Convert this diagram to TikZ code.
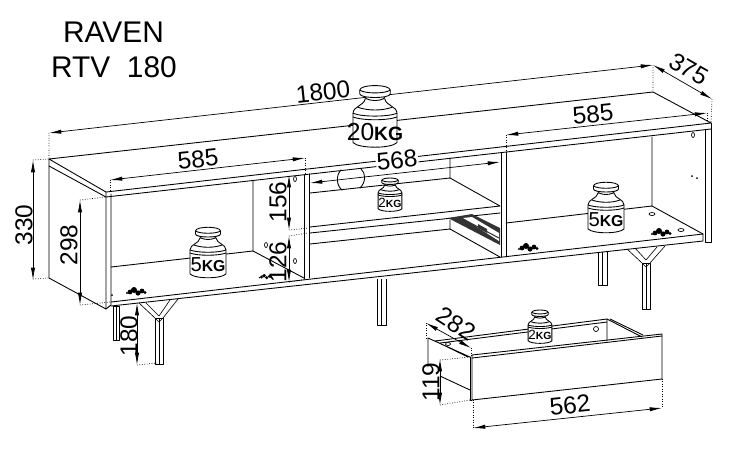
\documentclass[tikz,border=0pt]{standalone}
\usepackage{fontspec}
\setmainfont{Liberation Sans}
\usetikzlibrary{arrows.meta}
\tikzset{
  body/.style={line width=0.5pt, line cap=round, line join=round},
  leg/.style={line width=0.35pt, line join=round},
  extline/.style={densely dotted, line width=0.4pt},
  dimline/.style={line width=0.4pt, {Latex[length=7pt,width=2.4pt]}-{Latex[length=7pt,width=2.4pt]}},
  dimlabel/.style={font=\fontsize{13.9pt}{15pt}\selectfont, inner sep=0.5pt},
  pics/weight/.style={code={
    \filldraw[body, fill=white] (-18,-3) .. controls (-18,-9) and (-9,-9) .. (-8,-15) -- (8,-15)
      .. controls (9,-9) and (18,-9) .. (18,-3) -- (18,21)
      .. controls (13,26) and (-13,26) .. (-18,21) -- cycle;
    \filldraw[body, fill=white] (-9,-18) -- (-7,-15) .. controls (-3,-13) and (3,-13) .. (7,-15) -- (9,-18) -- cycle;
    \filldraw[body, fill=white] (-12.5,-22) .. controls (-12.5,-27) and (12.5,-27) .. (12.5,-22) -- (12.5,-19)
      .. controls (12.5,-15) and (-12.5,-15) .. (-12.5,-19) -- cycle;
    \draw[body] (-12.5,-22) .. controls (-8,-19) and (8,-19) .. (12.5,-22);
    \draw[body] (-14,-8) .. controls (-6,-5) and (6,-5) .. (14,-8);
    \draw[body] (-18,-3) .. controls (-10,0) and (10,0) .. (18,-3);
    \draw[body] (-18,0) .. controls (-10,3) and (10,3) .. (18,0);
    \node[transform shape, inner sep=0pt] at (0,12) {\fontsize{11.5pt}{12pt}\selectfont #1\fontsize{9pt}{10pt}\selectfont\textbf{KG}};
  }},
  pics/blob/.style={code={
    \fill (-7,0) circle (2.4);
    \fill (-3,-2) circle (3);
    \fill (1,1) circle (2.6);
    \fill (5,-1) circle (2.4);
    \fill (8,0.5) circle (1.6);
    \fill (-10,1) circle (1.2);
  }}
}
\begin{document}
\begin{tikzpicture}[x=0.02cm, y=-0.02cm]
  \useasboundingbox (0,0) rectangle (734,451);
  \fill[white] (0,0) rectangle (734,451);

  % title
  \node[font=\fontsize{17pt}{18pt}\selectfont, inner sep=0pt] (title1) at (113.5,32) {RAVEN};
  \node[font=\fontsize{17pt}{18pt}\selectfont, inner sep=0pt] (title2) at (114,67) {RTV\ \ 180};

  % legs
  \draw[leg] (113,306) rectangle (119,340) (116,306) -- (116,340);
  \draw[leg] (155,318) rectangle (163,364) (159,318) -- (159,364);
  \draw[leg] (139,303) -- (155,318) -- (159,322) -- (163,318) -- (178,299);
  \draw[leg] (146,303) -- (159,316) -- (170,300);
  \draw[leg] (377,279) -- (377,325) -- (386,325) -- (386,279) (381.5,279) -- (381.5,325);
  \draw[leg] (598,252) -- (598,285) -- (607,285) -- (607,252) (602.5,252) -- (602.5,285);
  \draw[leg] (642,263) rectangle (650,309) (646,263) -- (646,309);
  \draw[leg] (627,249) -- (642,263) -- (646,267) -- (650,263) -- (665,246);
  \draw[leg] (635,248) -- (646,260) -- (657,247);

  % cabinet
  \draw[body] (49,159) -- (653,92) -- (711,123) -- (106,192) -- cycle;
  \draw[body] (106,197) -- (711,129);
  \draw[body] (49,166) -- (106,197);
  \draw[body] (49,159) -- (49,278) -- (106,309) -- (106,192);
  \draw[body] (111,194) -- (111,305) (106,309) -- (111,305);
  \draw[body] (111,302) -- (703,234) (111,306) -- (703,241) -- (703,234);
  \draw[body] (705,130) -- (705,242) -- (711,242) -- (711,123);
  % left room
  \draw[body] (253,181) -- (253,251) -- (304,278) (111,267) -- (253,251);
  \draw[body] (304,175) -- (304,279) (309,174) -- (309,278);
  % middle room
  \draw[body] (310,193) -- (450,178) -- (450,158);
  \draw[body] (450,178) -- (500,206) (310,227) -- (500,206) (310,233) -- (500,213);
  \draw[body] (310,244) -- (450,229) -- (500,257) (450,220) -- (450,229);
  \draw[body] (501,153) -- (501,257) (506,152) -- (506,257);
  % right room
  \draw[body] (652,137) -- (652,206) -- (703,234) (506,223) -- (652,206);

  % drawer slide
  \fill[black!80] (448,218) -- (472,214) -- (500,228) -- (500,245) -- cycle;
  \fill[white] (463,218) -- (472,217) -- (499,233) -- (499,241) -- cycle;
  \draw[black!80, line width=0.6pt] (463,219) -- (499,238);
  \fill[black!80] (478,224) -- (487,229) -- (487,233) -- (478,228) -- cycle;

  % cut-out and holes
  \draw[body] (341,170) .. controls (336,175) and (336,185) .. (342,190);
  \draw[body] (361,169) .. controls (366,173) and (366,182) .. (360,188);
  \foreach \hx/\hy in {295/179, 266/245, 295/261, 693/135} {
    \draw[line width=0.4pt] (\hx,\hy) ellipse (1.5 and 2.5);
  }
  \foreach \hx/\hy in {652/214, 681/230} {
    \draw[line width=0.4pt] (\hx,\hy) ellipse (3 and 1.5);
  }
  \fill (692,176) circle (1) (697,178) circle (1) (112,295) circle (1);
  \pic at (137,292) {blob};
  \pic[scale=0.65] at (266,277) {blob};
  \pic at (529,248) {blob};
  \pic at (662,233) {blob};

  % drawer
  \draw[body] (435,341) -- (607,319) -- (642,337);
  \draw[body] (440,343) -- (607,322);
  \draw[body] (607,319) -- (607,341) (610,319) -- (643,335);
  \draw[body] (428,338) -- (470,357) (435,341) -- (468,357);
  \draw[body] (428,338) -- (428,367) (440,376) -- (470,390);
  \draw[body] (472,355) -- (662,334) -- (662,379) -- (472,400) -- cycle;
  \draw[body] (472,358) -- (662,336);
  \draw[body] (470,357) -- (470,400) -- (472,400);
  \draw[line width=0.4pt] (596,329) circle (2.5) (448,344) ellipse (2.5 and 1.5);

  % dimension guides
  \draw[extline] (49,133) -- (49,159) (653,65) -- (653,92) (712,99) -- (711,123);
  \draw[extline] (110,180) -- (110,192) (305,158) -- (305,175);
  \draw[extline] (506,135) -- (506,152) (707,113) -- (707,125);
  \draw[extline] (33,160) -- (49,159) (33,279) -- (49,278);
  \draw[extline] (80,200) -- (105,197) (80,305) -- (110,302);
  \draw[extline] (289,230) -- (308,228) (289,236) -- (308,233) (289,282) -- (302,280);
  \draw[extline] (137,365) -- (157,363);
  \draw[extline] (440,360) -- (470,357) (440,405) -- (470,400);
  \draw[extline] (426,323) -- (426,338) (471,348) -- (471,357);
  \draw[extline] (473,400) -- (473,428) (662,379) -- (662,408);

  % dimensions
  \draw[dimline] (49,133) -- (653,65);
  \draw[dimline] (653,65) -- (712,99);
  \draw[dimline] (110,180) -- (305,158);
  \draw[dimline] (506,135) -- (707,113);
  \draw[dimline] (310,183) -- (500,162);
  \draw[dimline] (33,160) -- (33,280);
  \draw[dimline] (80,200) -- (80,305);
  \draw[dimline] (289,175) -- (289,230);
  \draw[dimline] (289,236) -- (289,282);
  \draw[dimline] (137,303) -- (137,365);
  \draw[dimline] (440,359) -- (440,405);
  \draw[dimline] (426,323) -- (471,348);
  \draw[dimline] (473,428) -- (662,408);

  % weights
  \pic[scale=1.22] at (375,117) {weight={20}};
  \pic at (208,253) {weight={5}};
  \pic at (606,208) {weight={5}};
  \pic[scale=0.66] at (390,195) {weight={2}};
  \pic[scale=0.66] at (540,327) {weight={2}};

  % labels
  \node[dimlabel, rotate=6] (dim1800) at (323,92) {1800};
  \node[dimlabel, rotate=-30] (dim375) at (689,69) {375};
  \node[dimlabel, rotate=6] (dim585a) at (198,159) {585};
  \node[dimlabel, rotate=6] (dim585b) at (593,114) {585};
  \node[dimlabel, rotate=6, fill=white] (dim568) at (397,160) {568};
  \node[dimlabel, rotate=90] (dim330) at (24,225) {330};
  \node[dimlabel, rotate=90] (dim298) at (69,245) {298};
  \node[dimlabel, rotate=90] (dim156) at (278,202) {156};
  \node[dimlabel, rotate=90] (dim126) at (278,262) {126};
  \node[dimlabel, rotate=90] (dim180) at (129,336) {180};
  \node[dimlabel, rotate=90] (dim119) at (431,382) {119};
  \node[dimlabel, rotate=-33] (dim282) at (456,324) {282};
  \node[dimlabel, rotate=6] (dim562) at (570,405) {562};
\end{tikzpicture}
\end{document}
